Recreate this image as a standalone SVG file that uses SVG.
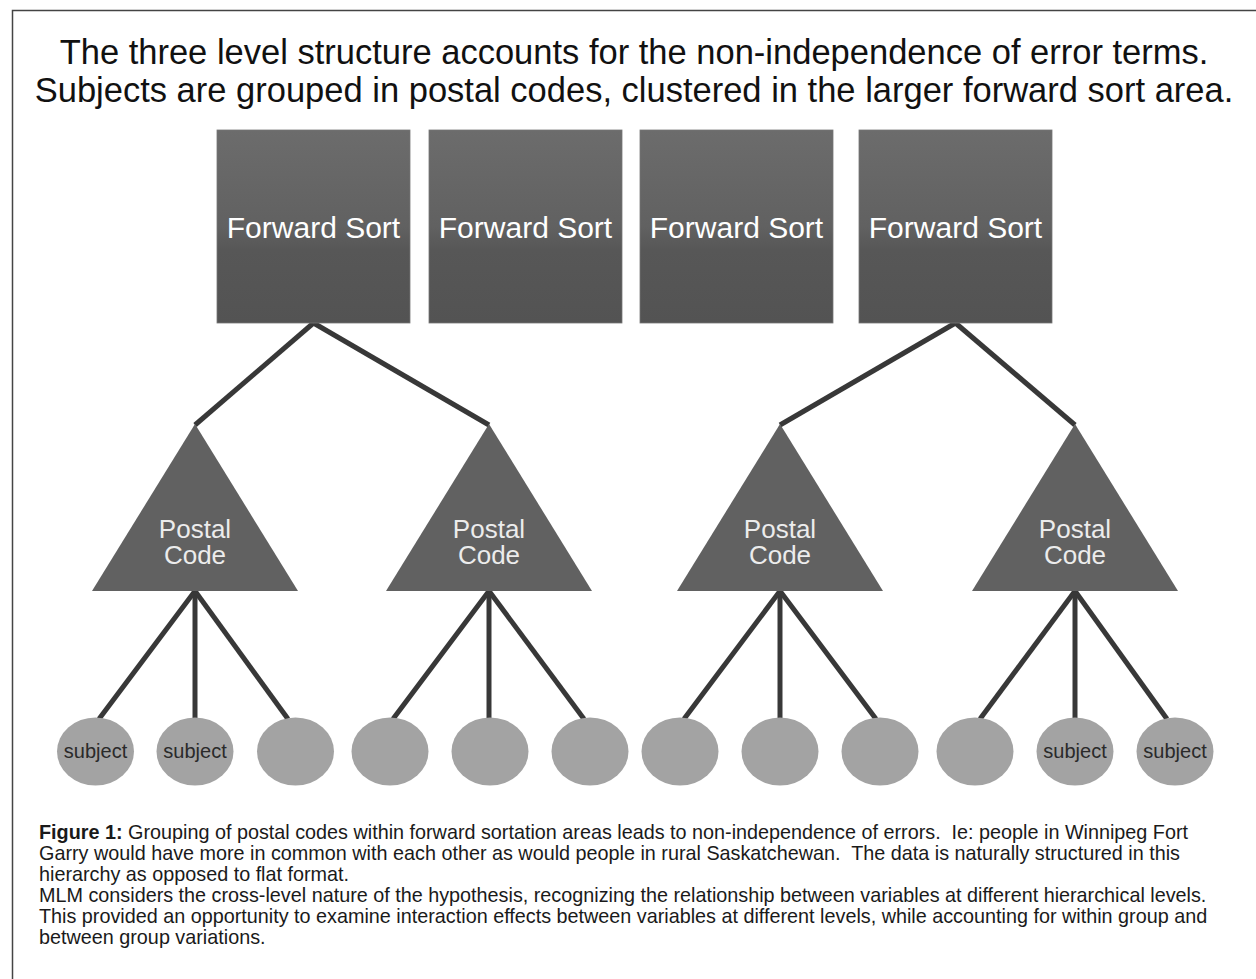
<svg xmlns="http://www.w3.org/2000/svg" width="1256" height="979" viewBox="0 0 1256 979">
<defs>
<linearGradient id="boxGrad" x1="0" y1="0" x2="0" y2="1">
<stop offset="0" stop-color="#6c6c6c"/>
<stop offset="0.5" stop-color="#616161"/>
<stop offset="0.62" stop-color="#575757"/>
<stop offset="1" stop-color="#535353"/>
</linearGradient>
</defs>
<style>
.title{font-family:"Liberation Sans",Arial,sans-serif;font-size:34.5px;fill:#111;text-anchor:middle}
.box{fill:url(#boxGrad);stroke:#777;stroke-width:0.8}
.boxtxt{font-family:"Liberation Sans",Arial,sans-serif;font-size:30px;fill:#fff;text-anchor:middle}
.tri{fill:#616161}
.tritxt{font-family:"Liberation Sans",Arial,sans-serif;font-size:26px;fill:#ececec;text-anchor:middle}
.circ{fill:#a3a3a3}
.subtxt{font-family:"Liberation Sans",Arial,sans-serif;font-size:20px;fill:#2a2a2a;text-anchor:middle}
.conn{stroke:#383838;stroke-width:5;fill:none}
.cap{font-family:"Liberation Sans",Arial,sans-serif;font-size:19.8px;fill:#1a1a1a;white-space:pre}
</style>
<rect width="1256" height="979" fill="#fff"/>
<path d="M12.5 979 V10.5 H1256" fill="none" stroke="#444" stroke-width="1.5"/>
<g id="title">
<text class="title" x="634" y="64">The three level structure accounts for the non-independence of error terms.</text>
<text class="title" x="634" y="102">Subjects are grouped in postal codes, clustered in the larger forward sort area.</text>
</g>
<g id="connectors">
<line class="conn" x1="313.5" y1="323" x2="195" y2="425"/>
<line class="conn" x1="313.5" y1="323" x2="489" y2="425"/>
<line class="conn" x1="955.5" y1="323" x2="780" y2="425"/>
<line class="conn" x1="955.5" y1="323" x2="1075" y2="425"/>
<line class="conn" x1="195" y1="591" x2="99" y2="719"/>
<line class="conn" x1="195" y1="591" x2="195" y2="719"/>
<line class="conn" x1="195" y1="591" x2="288" y2="719"/>
<line class="conn" x1="489" y1="591" x2="393" y2="719"/>
<line class="conn" x1="489" y1="591" x2="489" y2="719"/>
<line class="conn" x1="489" y1="591" x2="584" y2="719"/>
<line class="conn" x1="780" y1="591" x2="684" y2="719"/>
<line class="conn" x1="780" y1="591" x2="780" y2="719"/>
<line class="conn" x1="780" y1="591" x2="876" y2="719"/>
<line class="conn" x1="1075" y1="591" x2="980" y2="719"/>
<line class="conn" x1="1075" y1="591" x2="1075" y2="719"/>
<line class="conn" x1="1075" y1="591" x2="1167" y2="719"/>
</g>
<g id="fs1"><rect class="box" x="217" y="130" width="193" height="193"/><text class="boxtxt" x="313.5" y="238">Forward Sort</text></g>
<g id="fs2"><rect class="box" x="429" y="130" width="193" height="193"/><text class="boxtxt" x="525.5" y="238">Forward Sort</text></g>
<g id="fs3"><rect class="box" x="640" y="130" width="193" height="193"/><text class="boxtxt" x="736.5" y="238">Forward Sort</text></g>
<g id="fs4"><rect class="box" x="859" y="130" width="193" height="193"/><text class="boxtxt" x="955.5" y="238">Forward Sort</text></g>
<g id="pc1"><polygon class="tri" points="195,424 92,591 298,591"/><text class="tritxt" x="195" y="538">Postal</text><text class="tritxt" x="195" y="564">Code</text></g>
<g id="pc2"><polygon class="tri" points="489,424 386,591 592,591"/><text class="tritxt" x="489" y="538">Postal</text><text class="tritxt" x="489" y="564">Code</text></g>
<g id="pc3"><polygon class="tri" points="780,424 677,591 883,591"/><text class="tritxt" x="780" y="538">Postal</text><text class="tritxt" x="780" y="564">Code</text></g>
<g id="pc4"><polygon class="tri" points="1075,424 972,591 1178,591"/><text class="tritxt" x="1075" y="538">Postal</text><text class="tritxt" x="1075" y="564">Code</text></g>
<g id="s1"><ellipse class="circ" cx="95.5" cy="751.5" rx="38.5" ry="34"/><text class="subtxt" x="95.5" y="758">subject</text></g>
<g id="s2"><ellipse class="circ" cx="195" cy="751.5" rx="38.5" ry="34"/><text class="subtxt" x="195" y="758">subject</text></g>
<g id="s3"><ellipse class="circ" cx="295.5" cy="751.5" rx="38.5" ry="34"/></g>
<g id="s4"><ellipse class="circ" cx="390" cy="751.5" rx="38.5" ry="34"/></g>
<g id="s5"><ellipse class="circ" cx="490" cy="751.5" rx="38.5" ry="34"/></g>
<g id="s6"><ellipse class="circ" cx="590" cy="751.5" rx="38.5" ry="34"/></g>
<g id="s7"><ellipse class="circ" cx="680" cy="751.5" rx="38.5" ry="34"/></g>
<g id="s8"><ellipse class="circ" cx="780" cy="751.5" rx="38.5" ry="34"/></g>
<g id="s9"><ellipse class="circ" cx="880" cy="751.5" rx="38.5" ry="34"/></g>
<g id="s10"><ellipse class="circ" cx="975" cy="751.5" rx="38.5" ry="34"/></g>
<g id="s11"><ellipse class="circ" cx="1075" cy="751.5" rx="38.5" ry="34"/><text class="subtxt" x="1075" y="758">subject</text></g>
<g id="s12"><ellipse class="circ" cx="1175" cy="751.5" rx="38.5" ry="34"/><text class="subtxt" x="1175" y="758">subject</text></g>
<g id="caption">
<text class="cap" x="39" y="839" xml:space="preserve"><tspan font-weight="bold">Figure 1:</tspan> Grouping of postal codes within forward sortation areas leads to non-independence of errors.  Ie: people in Winnipeg Fort</text>
<text class="cap" x="39" y="860" xml:space="preserve">Garry would have more in common with each other as would people in rural Saskatchewan.  The data is naturally structured in this</text>
<text class="cap" x="39" y="881">hierarchy as opposed to flat format.</text>
<text class="cap" x="39" y="902">MLM considers the cross-level nature of the hypothesis, recognizing the relationship between variables at different hierarchical levels.</text>
<text class="cap" x="39" y="923">This provided an opportunity to examine interaction effects between variables at different levels, while accounting for within group and</text>
<text class="cap" x="39" y="944">between group variations.</text>
</g>
</svg>
